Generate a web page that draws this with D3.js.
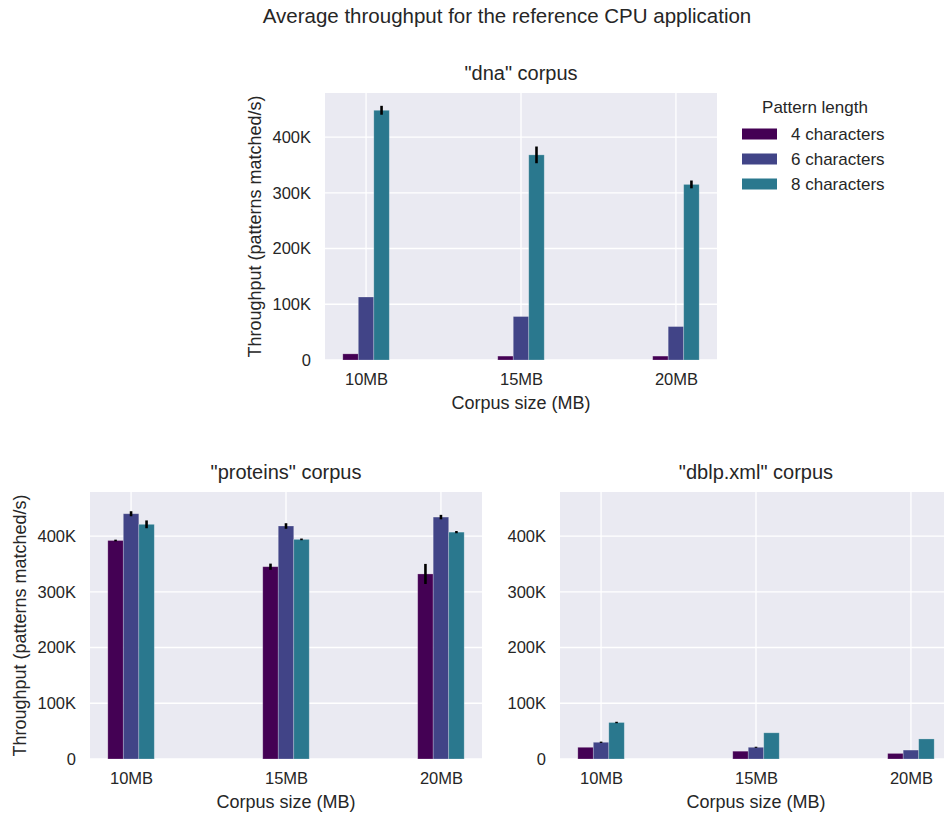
<!DOCTYPE html>
<html>
<head>
<meta charset="utf-8">
<script src="https://cdn.jsdelivr.net/npm/d3@7"></script>
<style>
  body { margin: 0; background: #fff; }
  svg { font-family: "Liberation Sans", Arial, sans-serif; display: block; }
</style>
</head>
<body>
<svg width="944" height="814"></svg>
<script>
// categories and series
var sizes = ["10MB", "15MB", "20MB"];
var patterns = ["4 characters", "6 characters", "8 characters"];
var yTicks = [0, 100000, 200000, 300000, 400000];

// mean throughput per pattern length (rows) and corpus size (columns)
var dnaMean = [[11000, 7000, 7000], [113000, 78000, 60000], [448000, 368000, 315000]];
var dnaErr = [[0, 0, 0], [0, 0, 0], [8000, 15000, 7000]];
var proteinsMean = [[392000, 345000, 332000], [440000, 418000, 434000], [421000, 394000, 407000]];
var proteinsErr = [[1500, 5500, 18000], [4500, 5000, 4000], [7000, 1500, 2000]];
var dblpMean = [[21000, 14000, 10000], [30000, 21000, 16000], [65500, 47000, 36000]];
var dblpErr = [[0, 0, 0], [1200, 1000, 0], [1300, 0, 0]];

var colors = ["#440154", "#414487", "#2a788e"];
var textColor = "#262626";

svg = d3.select("svg");
panelW = 392;
panelH = 267;

x = d3.scaleLinear().domain([-0.265, 2.265]).range([0, panelW]);
y = d3.scaleLinear().domain([0, 479000]).range([panelH, 0]);
barW = x(0.1) - x(0);

svg.append("text")
    .attr("x", 507)
    .attr("y", 15)
    .attr("text-anchor", "middle")
    .attr("dominant-baseline", "central")
    .attr("font-size", 20.5)
    .attr("fill", textColor)
    .text("Average throughput for the reference CPU application");

drawPanel(325, 93, "\"dna\" corpus", dnaMean, dnaErr, true);
drawPanel(90, 492, "\"proteins\" corpus", proteinsMean, proteinsErr, true);
drawPanel(560, 492, "\"dblp.xml\" corpus", dblpMean, dblpErr, false);
drawLegend(svg);

function drawPanel(left, top, title, mean, err, withYLabel) {
    var g = svg.append("g").attr("transform", "translate(" + [left, top] + ")");

    g.append("rect")
        .attr("width", panelW)
        .attr("height", panelH)
        .attr("fill", "#eaeaf2");

    // grid
    g.selectAll(".hgrid").data(yTicks).enter().append("line")
        .attr("x1", 0).attr("x2", panelW)
        .attr("y1", function(d) { return y(d); })
        .attr("y2", function(d) { return y(d); })
        .attr("stroke", "#fff")
        .attr("stroke-width", 1.3);
    g.selectAll(".vgrid").data(sizes).enter().append("line")
        .attr("x1", function(d, i) { return x(i); })
        .attr("x2", function(d, i) { return x(i); })
        .attr("y1", 0).attr("y2", panelH)
        .attr("stroke", "#fff")
        .attr("stroke-width", 1.3);

    // bars
    mean.forEach(function(row, j) {
        row.forEach(function(v, i) {
            var cx = i + (j - 1) * 0.1;
            g.append("rect")
                .attr("x", x(cx - 0.05))
                .attr("y", y(v))
                .attr("width", barW)
                .attr("height", y(0) - y(v))
                .attr("fill", colors[j])
                .attr("stroke", "rgba(255,255,255,0.3)")
                .attr("stroke-width", 0.8);
            var e = err[j][i];
            if (e > 0) {
                g.append("line")
                    .attr("x1", x(cx)).attr("x2", x(cx))
                    .attr("y1", y(v - e)).attr("y2", y(v + e))
                    .attr("stroke", "#000")
                    .attr("stroke-width", 2.6);
            }
        });
    });

    // axes
    var ax = g.append("g")
        .call(d3.axisLeft(y).tickValues(yTicks).tickSize(0).tickPadding(14)
            .tickFormat(function(d) { return d === 0 ? "0" : d / 1000 + "K"; }));
    var bx = g.append("g")
        .attr("transform", "translate(0," + panelH + ")")
        .call(d3.axisBottom(x).tickValues([0, 1, 2]).tickSize(0).tickPadding(13)
            .tickFormat(function(d) { return sizes[d]; }));
    [ax, bx].forEach(function(a) {
        a.select(".domain").remove();
        a.selectAll("text").attr("font-size", 16.5).attr("fill", textColor)
            .attr("font-family", "Liberation Sans, Arial, sans-serif");
    });

    g.append("text")
        .attr("x", panelW / 2)
        .attr("y", -20)
        .attr("text-anchor", "middle")
        .attr("dominant-baseline", "central")
        .attr("font-size", 20)
        .attr("fill", textColor)
        .text(title);

    g.append("text")
        .attr("x", panelW / 2)
        .attr("y", panelH + 43)
        .attr("text-anchor", "middle")
        .attr("dominant-baseline", "central")
        .attr("font-size", 18)
        .attr("fill", textColor)
        .text("Corpus size (MB)");

    if (withYLabel) {
        g.append("text")
            .attr("transform", "translate(" + [-70, panelH / 2] + ") rotate(-90)")
            .attr("text-anchor", "middle")
            .attr("dominant-baseline", "central")
            .attr("font-size", 18)
            .attr("fill", textColor)
            .text("Throughput (patterns matched/s)");
    }
}

function drawLegend(canvas) {
    var lg = canvas.append("g").attr("class", "legend");
    lg.append("text")
        .attr("x", 815)
        .attr("y", 107)
        .attr("text-anchor", "middle")
        .attr("dominant-baseline", "central")
        .attr("font-size", 17)
        .attr("fill", textColor)
        .text("Pattern length");
    patterns.forEach(function(p, i) {
        var cy = 134 + i * 25;
        lg.append("rect")
            .attr("x", 742)
            .attr("y", cy - 5.5)
            .attr("width", 35)
            .attr("height", 11)
            .attr("fill", colors[i]);
        lg.append("text")
            .attr("x", 791)
            .attr("y", cy)
            .attr("dominant-baseline", "central")
            .attr("font-size", 17)
            .attr("fill", textColor)
            .text(p);
    });
}
</script>
</body>
</html>
